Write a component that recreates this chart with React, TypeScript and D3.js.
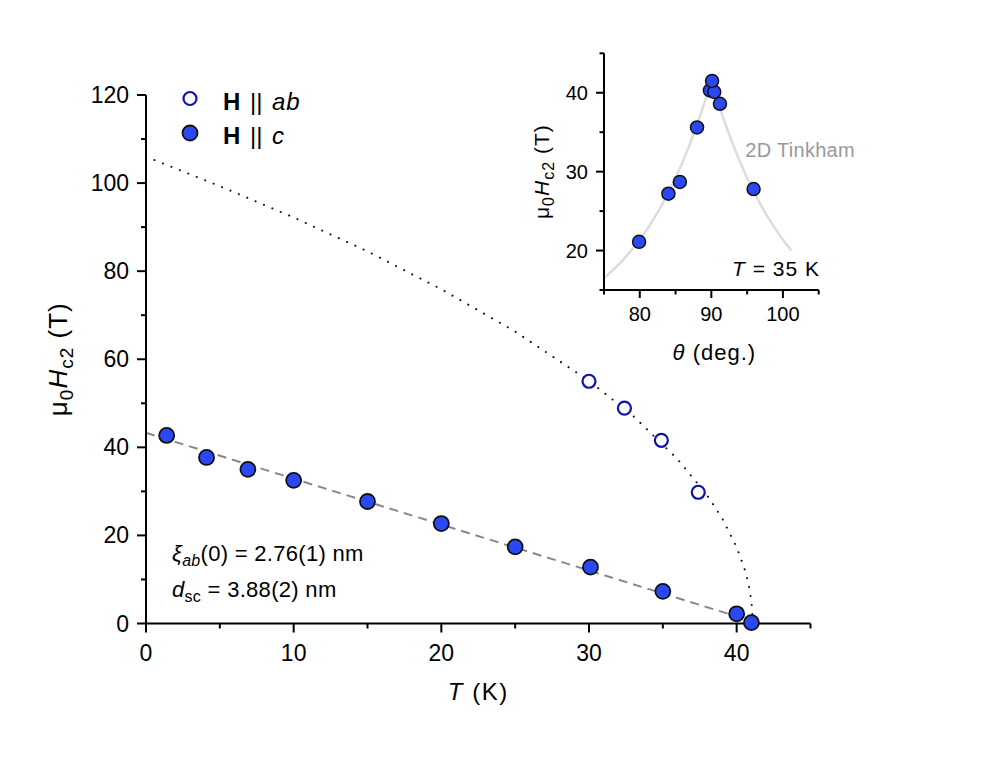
import React from "react";
import * as d3 from "d3";

// main panel: upper critical field vs temperature
const abT = [30, 32.4, 34.9, 37.4];
const abH = [55.0, 48.9, 41.6, 29.8];

const cT = [1.4, 4.1, 6.9, 10, 15, 20, 25, 30.1, 35, 40, 41];
const cH = [42.7, 37.7, 35.0, 32.5, 27.7, 22.7, 17.4, 12.8, 7.3, 2.2, 0.2];

// dotted guide for H || ab
const abFitT = [0, 5, 10, 15, 20, 25, 30, 33, 36, 38, 39, 40, 40.5, 40.8, 41, 41.1];
const abFitH = [106, 99.3, 92.2, 84.5, 75.9, 66.3, 55.1, 47.1, 37.3, 29.1, 24.0, 17.3, 12.8, 9.1, 5.2, 0];

// dashed linear guide for H || c
const cFitT = [0, 40.3];
const cFitH = [43.3, 1.3];

const xTicks = [0, 10, 20, 30, 40];
const xMinor = [5, 15, 25, 35, 45];
const yTicks = [0, 20, 40, 60, 80, 100, 120];
const yMinor = [10, 30, 50, 70, 90, 110];

// inset: angular dependence at 35 K
const angTheta = [79.9, 84.0, 85.6, 88.0, 89.8, 90.4, 90.1, 91.2, 95.9];
const angH = [21.1, 27.2, 28.7, 35.6, 40.3, 40.1, 41.5, 38.6, 27.8];

const tinkTheta = [75, 77.5, 80, 82.5, 85, 87, 88, 89, 89.5, 89.75, 90, 90.25, 90.5, 91, 92, 93, 95, 97.5, 100, 101.2];
const tinkH = [16.5, 18.66, 21.38, 24.83, 29.19, 33.49, 35.94, 38.61, 40.03, 40.75, 41.5, 40.75, 40.03, 38.61, 35.94, 33.49, 29.19, 24.83, 21.38, 20.0];

const inXTicks = [80, 90, 100];
const inXMinor = [75, 85, 95, 105];
const inYTicks = [20, 30, 40];
const inYMinor = [15, 25, 35, 45];

const FONT = "'Liberation Sans', Arial, Helvetica, sans-serif";
const BLUE = "#2b48f6";
const DARKBLUE = "#0d14a6";

export default function App() {
  const W = 996;
  const H = 763;

  const x = d3.scaleLinear().domain([0, 45]).range([146, 810.5]);
  const y = d3.scaleLinear().domain([0, 120]).range([623.5, 95]);

  const ix = d3.scaleLinear().domain([75, 105]).range([604, 818.7]);
  const iy = d3.scaleLinear().domain([15, 45]).range([290, 53.3]);

  const line = d3
    .line<[number, number]>()
    .x((d) => x(d[0]))
    .y((d) => y(d[1]));
  const iline = d3
    .line<[number, number]>()
    .x((d) => ix(d[0]))
    .y((d) => iy(d[1]))
    .curve(d3.curveMonotoneX);

  const abFit = line(abFitT.map((t, i) => [t, abFitH[i]]) as [number, number][]);
  const cFit = line(cFitT.map((t, i) => [t, cFitH[i]]) as [number, number][]);
  const tink = iline(tinkTheta.map((t, i) => [t, tinkH[i]]) as [number, number][]);

  const [x0, x1] = x.range();
  const [y0, y1] = y.range();
  const [ix0, ix1] = ix.range();
  const [iy0, iy1] = iy.range();

  return (
    <svg width={W} height={H} style={{ position: "absolute", left: 0, top: 0 }} fontFamily={FONT}>
      <rect width={W} height={H} fill="#fff" />

      {/* fits */}
      <path d={abFit || ""} fill="none" stroke="#111" strokeWidth={2} strokeDasharray="0.1 9" strokeLinecap="round" />
      <path d={cFit || ""} fill="none" stroke="#888" strokeWidth={2} strokeDasharray="9 6" />

      {/* main axes */}
      <g stroke="#000" strokeWidth={2}>
        <line x1={x0} x2={x1} y1={y0} y2={y0} />
        <line x1={x0} x2={x0} y1={y0} y2={y1} />
        {xTicks.map((t) => (
          <line key={"xt" + t} x1={x(t)} x2={x(t)} y1={y0} y2={y0 + 9} />
        ))}
        {xMinor.map((t) => (
          <line key={"xm" + t} x1={x(t)} x2={x(t)} y1={y0} y2={y0 + 5} />
        ))}
        {yTicks.map((t) => (
          <line key={"yt" + t} x1={x0} x2={x0 - 9} y1={y(t)} y2={y(t)} />
        ))}
        {yMinor.map((t) => (
          <line key={"ym" + t} x1={x0} x2={x0 - 5} y1={y(t)} y2={y(t)} />
        ))}
      </g>
      <g fontSize={23} fill="#000">
        {xTicks.map((t) => (
          <text key={"xl" + t} x={x(t)} y={y0 + 37} textAnchor="middle">
            {t}
          </text>
        ))}
        {yTicks.map((t) => (
          <text key={"yl" + t} x={x0 - 17} y={y(t) + 8} textAnchor="end">
            {t}
          </text>
        ))}
      </g>
      <text x={(x0 + x1) / 2} y={700} textAnchor="middle" fontSize={24} letterSpacing={1.5}>
        <tspan fontStyle="italic">T</tspan>
        <tspan> (K)</tspan>
      </text>
      <text
        transform={`translate(67, ${(y0 + y1) / 2}) rotate(-90)`}
        textAnchor="middle"
        fontSize={26}
        letterSpacing={1}
      >
        <tspan>μ</tspan>
        <tspan fontSize={19} dy={6}>0</tspan>
        <tspan fontStyle="italic" dy={-6}>H</tspan>
        <tspan fontSize={19} dy={6}>c2</tspan>
        <tspan dy={-6}> (T)</tspan>
      </text>

      {/* data */}
      {abT.map((t, i) => (
        <circle key={"ab" + i} cx={x(t)} cy={y(abH[i])} r={6.5} fill="#fff" stroke={DARKBLUE} strokeWidth={2.2} />
      ))}
      {cT.map((t, i) => (
        <circle key={"c" + i} cx={x(t)} cy={y(cH[i])} r={7.5} fill={BLUE} stroke="#111" strokeWidth={1.8} />
      ))}

      {/* legend */}
      <circle cx={190} cy={98.5} r={6.5} fill="#fff" stroke={DARKBLUE} strokeWidth={2.2} />
      <circle cx={190} cy={133} r={7.5} fill={BLUE} stroke="#111" strokeWidth={1.8} />
      <g fontSize={24}>
        <text x={223} y={110}>
          <tspan fontWeight="bold">H</tspan>
          <tspan x={250}>||</tspan>
          <tspan x={272} fontStyle="italic" letterSpacing={1}>ab</tspan>
        </text>
        <text x={223} y={144}>
          <tspan fontWeight="bold">H</tspan>
          <tspan x={250}>||</tspan>
          <tspan x={272} fontStyle="italic">c</tspan>
        </text>
      </g>

      {/* annotations */}
      <text x={172} y={561} fontSize={22} letterSpacing={0.3}>
        <tspan fontStyle="italic">ξ</tspan>
        <tspan fontStyle="italic" fontSize={16} dy={5}>ab</tspan>
        <tspan dy={-5}>(0) = 2.76(1) nm</tspan>
      </text>
      <text x={172} y={597} fontSize={22} letterSpacing={0.3}>
        <tspan fontStyle="italic">d</tspan>
        <tspan fontSize={16} dy={5}>sc</tspan>
        <tspan dy={-5}> = 3.88(2) nm</tspan>
      </text>

      {/* inset */}
      <path d={tink || ""} fill="none" stroke="#dcdcdc" strokeWidth={2.5} />
      <g stroke="#000" strokeWidth={2}>
        <line x1={ix0} x2={ix1} y1={iy0} y2={iy0} />
        <line x1={ix0} x2={ix0} y1={iy0} y2={iy1} />
        {inXTicks.map((t) => (
          <line key={"ixt" + t} x1={ix(t)} x2={ix(t)} y1={iy0} y2={iy0 + 8} />
        ))}
        {inXMinor.map((t) => (
          <line key={"ixm" + t} x1={ix(t)} x2={ix(t)} y1={iy0} y2={iy0 + 4.5} />
        ))}
        {inYTicks.map((t) => (
          <line key={"iyt" + t} x1={ix0} x2={ix0 - 8} y1={iy(t)} y2={iy(t)} />
        ))}
        {inYMinor.map((t) => (
          <line key={"iym" + t} x1={ix0} x2={ix0 - 4.5} y1={iy(t)} y2={iy(t)} />
        ))}
      </g>
      <g fontSize={20} fill="#000">
        {inXTicks.map((t) => (
          <text key={"ixl" + t} x={ix(t)} y={iy0 + 31} textAnchor="middle">
            {t}
          </text>
        ))}
        {inYTicks.map((t) => (
          <text key={"iyl" + t} x={ix0 - 16} y={iy(t) + 7} textAnchor="end">
            {t}
          </text>
        ))}
      </g>
      <text x={(ix0 + ix1) / 2 + 3} y={360} textAnchor="middle" fontSize={22} letterSpacing={1}>
        <tspan fontStyle="italic">θ</tspan>
        <tspan> (deg.)</tspan>
      </text>
      <text
        transform={`translate(549, ${(iy0 + iy1) / 2}) rotate(-90)`}
        textAnchor="middle"
        fontSize={21}
        letterSpacing={1}
      >
        <tspan>μ</tspan>
        <tspan fontSize={16} dy={5}>0</tspan>
        <tspan fontStyle="italic" dy={-5}>H</tspan>
        <tspan fontSize={16} dy={5}>c2</tspan>
        <tspan dy={-5}> (T)</tspan>
      </text>
      <text x={855} y={157} textAnchor="end" fontSize={20} fill="#999" letterSpacing={0.3}>
        2D Tinkham
      </text>
      <text x={820} y={276} textAnchor="end" fontSize={21} letterSpacing={1}>
        <tspan fontStyle="italic">T</tspan>
        <tspan> = 35 K</tspan>
      </text>
      {angTheta.map((t, i) => (
        <circle key={"ang" + i} cx={ix(t)} cy={iy(angH[i])} r={6.5} fill={BLUE} stroke="#111" strokeWidth={1.5} />
      ))}
    </svg>
  );
}
